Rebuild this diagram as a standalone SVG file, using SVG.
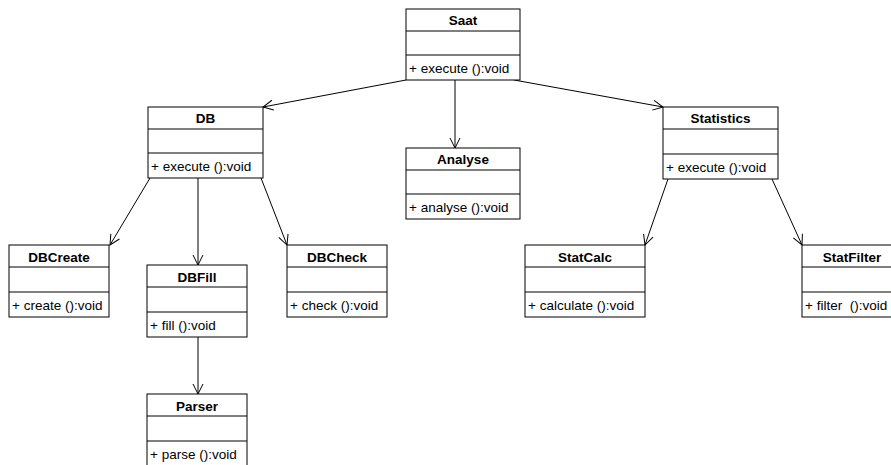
<svg xmlns="http://www.w3.org/2000/svg" width="891" height="465" viewBox="0 0 891 465">
  <style>
    .box { fill: #fff; stroke: #000; stroke-width: 1; }
    .sep { stroke: #000; stroke-width: 1; }
    .title { font-family: "Liberation Sans", Arial, sans-serif; font-size: 13.5px; font-weight: bold; text-anchor: middle; fill: #000; }
    .op { font-family: "Liberation Sans", Arial, sans-serif; font-size: 13.5px; fill: #000; }
    .edge { stroke: #000; stroke-width: 1; fill: none; marker-end: url(#open); }
  </style>
  <defs>
    <marker id="open" viewBox="0 0 12 12" refX="11" refY="6" markerWidth="12" markerHeight="12" markerUnits="userSpaceOnUse" orient="auto">
      <path d="M1,1 L11,6 L1,11" fill="none" stroke="#000" stroke-width="1"/>
    </marker>
  </defs>
  <rect width="891" height="465" fill="#fff"/>

  <g id="connectors">
    <line class="edge" x1="406" y1="80" x2="263" y2="107"/>
    <line class="edge" x1="455" y1="80" x2="455" y2="148"/>
    <line class="edge" x1="514" y1="80" x2="663" y2="107"/>
    <line class="edge" x1="150" y1="178" x2="110" y2="245"/>
    <line class="edge" x1="198" y1="178" x2="198" y2="265"/>
    <line class="edge" x1="261" y1="178" x2="287" y2="245"/>
    <line class="edge" x1="198" y1="337" x2="198" y2="394"/>
    <line class="edge" x1="668" y1="179" x2="645" y2="245"/>
    <line class="edge" x1="772" y1="179" x2="802" y2="245"/>
  </g>

  <g id="Saat">
    <rect class="box" x="406" y="9" width="114" height="71"/>
    <line class="sep" x1="406" y1="31" x2="520" y2="31"/>
    <line class="sep" x1="406" y1="55" x2="520" y2="55"/>
    <text class="title" x="463" y="25">Saat</text>
    <text class="op" x="409" y="73">+ execute ():void</text>
  </g>

  <g id="DB">
    <rect class="box" x="148" y="107" width="115" height="71"/>
    <line class="sep" x1="148" y1="129" x2="263" y2="129"/>
    <line class="sep" x1="148" y1="153" x2="263" y2="153"/>
    <text class="title" x="205.5" y="123">DB</text>
    <text class="op" x="151" y="171">+ execute ():void</text>
  </g>

  <g id="Analyse">
    <rect class="box" x="406" y="148" width="114" height="71"/>
    <line class="sep" x1="406" y1="170" x2="520" y2="170"/>
    <line class="sep" x1="406" y1="194" x2="520" y2="194"/>
    <text class="title" x="463" y="164">Analyse</text>
    <text class="op" x="409" y="212">+ analyse ():void</text>
  </g>

  <g id="Statistics">
    <rect class="box" x="663" y="107" width="115" height="72"/>
    <line class="sep" x1="663" y1="129" x2="778" y2="129"/>
    <line class="sep" x1="663" y1="154" x2="778" y2="154"/>
    <text class="title" x="720.5" y="123">Statistics</text>
    <text class="op" x="666" y="172">+ execute ():void</text>
  </g>

  <g id="DBCreate">
    <rect class="box" x="9" y="245" width="100" height="72"/>
    <line class="sep" x1="9" y1="267" x2="109" y2="267"/>
    <line class="sep" x1="9" y1="292" x2="109" y2="292"/>
    <text class="title" x="59" y="262">DBCreate</text>
    <text class="op" x="12" y="310">+ create ():void</text>
  </g>

  <g id="DBFill">
    <rect class="box" x="147" y="265" width="100" height="72"/>
    <line class="sep" x1="147" y1="287" x2="247" y2="287"/>
    <line class="sep" x1="147" y1="312" x2="247" y2="312"/>
    <text class="title" x="197" y="282">DBFill</text>
    <text class="op" x="150" y="330">+ fill ():void</text>
  </g>

  <g id="DBCheck">
    <rect class="box" x="287" y="245" width="100" height="72"/>
    <line class="sep" x1="287" y1="267" x2="387" y2="267"/>
    <line class="sep" x1="287" y1="292" x2="387" y2="292"/>
    <text class="title" x="337" y="262">DBCheck</text>
    <text class="op" x="290" y="310">+ check ():void</text>
  </g>

  <g id="Parser">
    <rect class="box" x="147" y="394" width="100" height="75"/>
    <line class="sep" x1="147" y1="416" x2="247" y2="416"/>
    <line class="sep" x1="147" y1="441" x2="247" y2="441"/>
    <text class="title" x="197" y="411">Parser</text>
    <text class="op" x="150" y="459">+ parse ():void</text>
  </g>

  <g id="StatCalc">
    <rect class="box" x="525" y="245" width="120" height="72"/>
    <line class="sep" x1="525" y1="267" x2="645" y2="267"/>
    <line class="sep" x1="525" y1="292" x2="645" y2="292"/>
    <text class="title" x="585" y="262">StatCalc</text>
    <text class="op" x="528" y="310">+ calculate ():void</text>
  </g>

  <g id="StatFilter">
    <rect class="box" x="802" y="245" width="100" height="72"/>
    <line class="sep" x1="802" y1="267" x2="902" y2="267"/>
    <line class="sep" x1="802" y1="292" x2="902" y2="292"/>
    <text class="title" x="852" y="262">StatFilter</text>
    <text class="op" x="805" y="310" xml:space="preserve">+ filter  ():void</text>
  </g>
</svg>
